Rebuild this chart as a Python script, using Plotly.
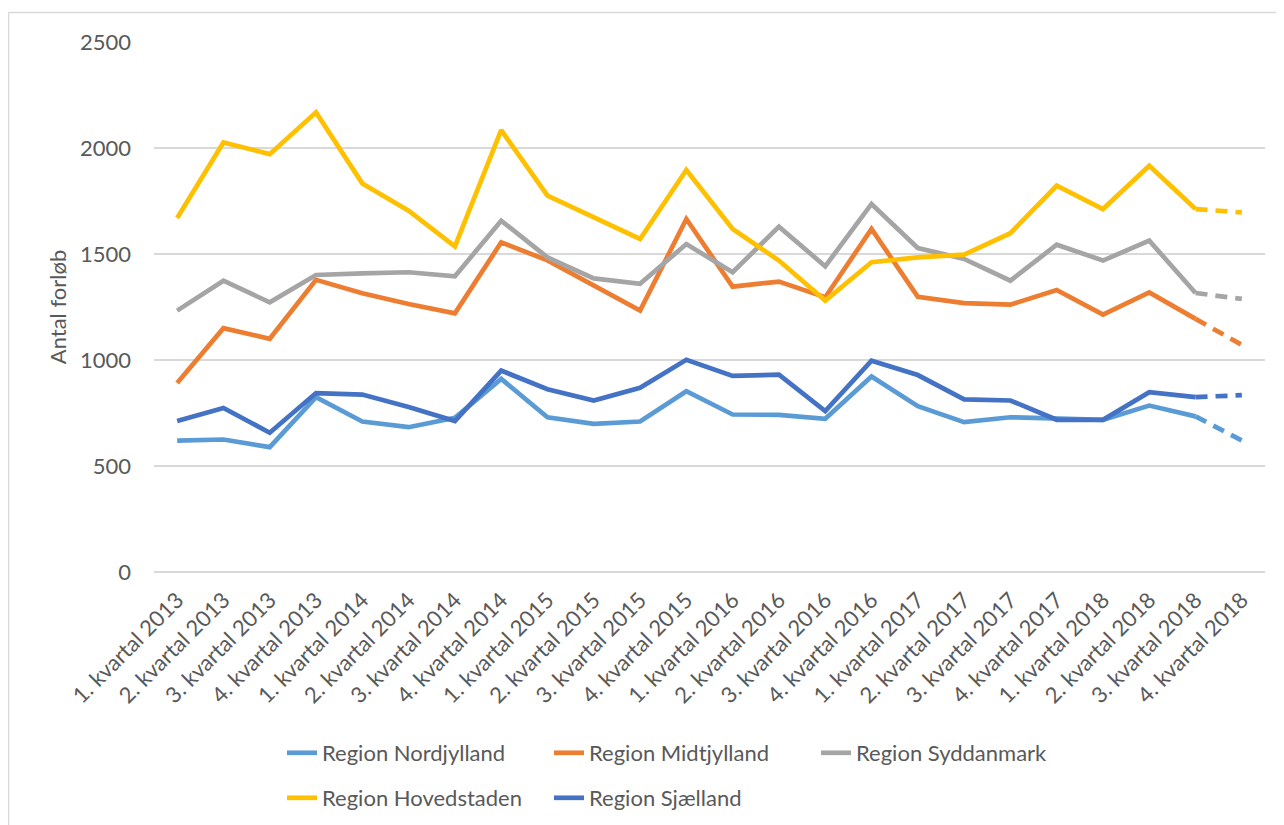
import plotly.graph_objects as go

quarters = [f"{q}. kvartal {y}" for y in range(2013, 2019) for q in range(1, 5)]

nordjylland = [620, 625, 589, 825, 710, 683, 727, 911, 730, 699, 710, 853,
               743, 741, 723, 922, 782, 707, 730, 723, 718, 785, 734, 620]
midtjylland = [891, 1150, 1100, 1378, 1315, 1264, 1220, 1555, 1470, 1351, 1233, 1665,
               1346, 1370, 1296, 1618, 1298, 1268, 1261, 1330, 1214, 1319, 1194, 1071]
syddanmark = [1233, 1374, 1272, 1401, 1409, 1414, 1395, 1657, 1484, 1385, 1359, 1547,
              1414, 1629, 1442, 1736, 1528, 1477, 1374, 1544, 1469, 1563, 1316, 1288]
hovedstaden = [1670, 2026, 1971, 2168, 1833, 1704, 1536, 2084, 1775, 1673, 1571, 1896,
               1618, 1469, 1280, 1461, 1484, 1497, 1598, 1822, 1712, 1916, 1712, 1696]
sjaelland = [712, 774, 657, 844, 837, 778, 712, 950, 862, 809, 869, 1001,
             925, 931, 759, 997, 929, 814, 809, 718, 718, 848, 825, 834]

series = [
    ("Region Nordjylland", nordjylland, "#5B9BD5", "legend"),
    ("Region Midtjylland", midtjylland, "#ED7D31", "legend"),
    ("Region Syddanmark", syddanmark, "#A5A5A5", "legend"),
    ("Region Hovedstaden", hovedstaden, "#FFC000", "legend2"),
    ("Region Sjælland", sjaelland, "#4472C4", "legend2"),
]

FONT = "Lato"
TXT = "#595959"
FS = 22

fig = go.Figure()
for name, vals, color, lg in series:
    fig.add_trace(go.Scatter(
        x=quarters[:-1], y=vals[:-1], mode="lines", name=name,
        line=dict(color=color, width=4.7), legend=lg,
    ))
    fig.add_trace(go.Scatter(
        x=quarters[-2:], y=vals[-2:], mode="lines", name=name, showlegend=False,
        line=dict(color=color, width=4.7, dash="12px,8px"), legend=lg,
    ))

OFF = 8  # page offset of the plot div
W, H = 1284 - OFF, 825 - OFF
L, T = 154 - OFF, 42 - OFF
pw, ph = 1111, 530
R = W - L - pw
B = H - T - ph

def px_x(x):
    return (x - OFF - L) / pw

def px_y(y):
    return (T + ph - (y - OFF)) / ph

fig.update_layout(
    width=W, height=H,
    margin=dict(l=L, r=R, t=T, b=B, autoexpand=False),
    paper_bgcolor="white", plot_bgcolor="white",
    font=dict(family=FONT, size=FS, color=TXT),
    xaxis=dict(
        type="category", tickangle=-45, showgrid=False, showline=False,
        ticks="", tickfont=dict(family=FONT, size=FS, color=TXT),
        range=[-0.5, 23.5], ticklabelstandoff=10, automargin=False,
    ),
    yaxis=dict(
        range=[0, 2500], tickvals=[0, 500, 1000, 1500, 2000, 2500],
        showgrid=True, gridcolor="#D9D9D9", gridwidth=1.5,
        zeroline=True, zerolinecolor="#D9D9D9", zerolinewidth=1.5,
        showline=False, ticks="", ticklabelstandoff=22, automargin=False,
        tickfont=dict(family=FONT, size=FS, color=TXT),
        title=dict(text="Antal forløb", font=dict(family=FONT, size=FS, color=TXT), standoff=7),
    ),
    legend=dict(
        orientation="h", x=px_x(282), xanchor="left", y=px_y(753), yanchor="middle",
        font=dict(family=FONT, size=FS, color=TXT), entrywidth=222, bgcolor="rgba(0,0,0,0)",
        itemwidth=30,
    ),
    legend2=dict(
        orientation="h", x=px_x(282), xanchor="left", y=px_y(798), yanchor="middle",
        font=dict(family=FONT, size=FS, color=TXT), entrywidth=222, bgcolor="rgba(0,0,0,0)",
        itemwidth=30,
    ),
    showlegend=True,
    shapes=[
        dict(type="line", xref="paper", yref="paper", x0=px_x(8.5), x1=px_x(1300),
             y0=px_y(12.5), y1=px_y(12.5), line=dict(color="#D9D9D9", width=1.5)),
        dict(type="line", xref="paper", yref="paper", x0=px_x(8.5), x1=px_x(8.5),
             y0=px_y(12.5), y1=px_y(840), line=dict(color="#D9D9D9", width=1.5)),
    ],
)

fig.write_html("out.html")
